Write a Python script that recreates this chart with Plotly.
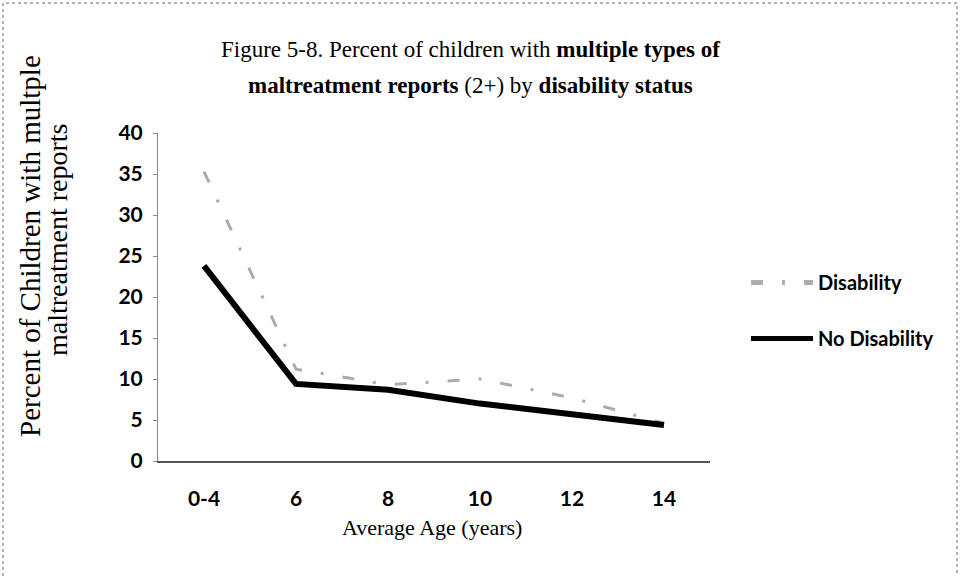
import plotly.graph_objects as go

# Average age groups and percent of children with 2+ maltreatment report types
age_groups = ["0-4", "6", "8", "10", "12", "14"]
disability = [35.3, 11.2, 9.3, 10.0, 7.7, 4.6]
no_disability = [23.8, 9.4, 8.7, 7.0, 5.7, 4.4]
y_ticks = [0, 5, 10, 15, 20, 25, 30, 35, 40]

W, H = 961, 576
L, R, T, B = 158, 251, 133, 115
pw, ph = W - L - R, H - T - B

def px_x(p):
    return (p - L) / pw

def px_y(p):
    return (H - B - p) / ph

fig = go.Figure()
fig.add_trace(go.Scatter(
    x=age_groups, y=disability, name="Disability", mode="lines",
    legendgroup="dis",
    line=dict(color="#acacac", width=3, dash="12px,19px,3px,19px"),
))
fig.add_trace(go.Scatter(
    x=age_groups, y=no_disability, name="No Disability", mode="lines",
    legendgroup="nodis",
    line=dict(color="#000000", width=6),
))

sans = "Lato, Carlito, Calibri, sans-serif"
serif = "Liberation Serif, Times New Roman, serif"


def label(text, x, y, size, family=serif, angle=0):
    return dict(
        text=text, xref="paper", yref="paper", x=px_x(x), y=px_y(y),
        xanchor="center", yanchor="middle", showarrow=False, textangle=angle,
        font=dict(family=family, size=size, color="black"),
    )


fig.update_layout(
    width=W, height=H,
    margin=dict(l=L, r=R, t=T, b=B, pad=0),
    paper_bgcolor="white", plot_bgcolor="white",
    showlegend=True,
    legend=dict(
        x=px_x(746), y=px_y(263), xanchor="left", yanchor="top",
        font=dict(family=sans, size=20, color="black", weight="bold"),
        bgcolor="rgba(0,0,0,0)", itemwidth=62, tracegroupgap=27,
        itemsizing="constant",
    ),
    xaxis=dict(
        type="category", range=[-0.5, 5.5],
        showline=True, linecolor="#555555", linewidth=1.5,
        ticks="", showgrid=False, zeroline=False,
        tickfont=dict(family=sans, size=21, color="black", weight="bold"),
        ticklabelstandoff=18,
    ),
    yaxis=dict(
        range=[0, 40], tickvals=y_ticks,
        showline=True, linecolor="#8a8a8a", linewidth=1,
        ticks="outside", ticklen=4, tickcolor="#8a8a8a",
        showgrid=False, zeroline=False,
        tickfont=dict(family=sans, size=21, color="black", weight="bold"),
        ticklabelstandoff=6,
    ),
    annotations=[
        label("Figure 5-8. Percent of children with <b>multiple types of</b>", 470, 49, 23),
        label("<b>maltreatment reports</b> (2+) by <b>disability status</b>", 470, 85, 23),
        label("Percent of Children with multple", 30, 246, 29, angle=-90),
        label("maltreatment reports", 57, 240, 28, angle=-90),
        label("Average Age (years)", 432, 527, 22),
    ],
    shapes=[
        dict(type="rect", xref="paper", yref="paper",
             x0=px_x(3), x1=px_x(957), y0=px_y(579), y1=px_y(3),
             line=dict(color="#9a9a9a", width=1.5, dash="dot"),
             layer="below"),
    ],
)

fig.write_html("out.html")
